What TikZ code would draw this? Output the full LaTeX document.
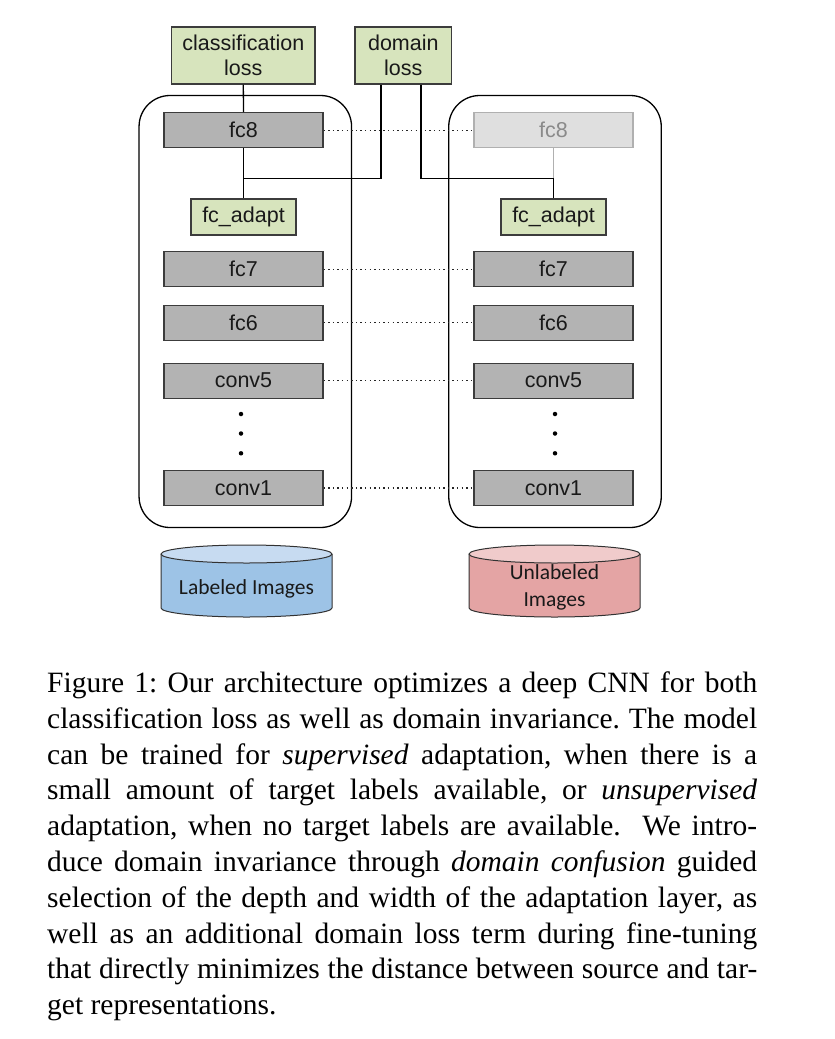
\documentclass[tikz,border=0pt]{standalone}
\usepackage{fontspec}
\setmainfont{Liberation Serif}
\newfontfamily\arialf{Liberation Sans}
\newfontfamily\calibrif{Carlito}
\definecolor{layergray}{RGB}{179,179,179}
\definecolor{layerline}{RGB}{60,60,60}
\definecolor{greenfill}{RGB}{215,228,189}
\definecolor{fadefill}{RGB}{223,223,223}
\definecolor{fadeline}{RGB}{176,176,176}
\definecolor{fadetext}{RGB}{138,138,138}
\definecolor{bluebody}{RGB}{157,195,230}
\definecolor{bluetop}{RGB}{199,219,241}
\definecolor{redbody}{RGB}{228,164,164}
\definecolor{redtop}{RGB}{240,203,203}
\definecolor{cylline}{RGB}{50,50,50}
\begin{document}
\begin{tikzpicture}[x=1pt,y=-1pt,
  layer/.style={draw=layerline, fill=layergray, line width=1.1pt, minimum width=159pt, minimum height=35pt, inner sep=0pt, font=\arialf\fontsize{21.5}{25}\selectfont, text=black!90},
  fadelayer/.style={layer, draw=fadeline, fill=fadefill, text=fadetext},
  greenbox/.style={draw=layerline, fill=greenfill, line width=1.1pt, inner sep=0pt, font=\arialf\fontsize{21.5}{25.5}\selectfont, align=center, text=black!90},
  container/.style={draw=black, line width=1.3pt, rounded corners=31pt, minimum width=212.5pt, minimum height=432pt, inner sep=0pt},
  conn/.style={draw=black, line width=1.3pt},
  fadeconn/.style={draw=fadeline, line width=1.3pt},
  dotline/.style={draw=black!85, line width=1.4pt, dash pattern=on 1.4pt off 3.2pt},
  vdot/.style={circle, fill=black, inner sep=0pt, minimum size=4.5pt},
  cyltext/.style={font=\calibrif\fontsize{21.5}{27}\selectfont, align=center, text=black!90}
]
\fill[white] (0,0) rectangle (835,1039);
\useasboundingbox (0,0) rectangle (835,1039);

% containers
\node[container] (lcont) at (245.3,311.5) {};
\node[container] (rcont) at (555,311.5) {};

% loss boxes
\node[greenbox, minimum width=143.4pt, minimum height=57pt] (closs) at (243.3,55.5) {classification\\loss};
\node[greenbox, minimum width=96.6pt, minimum height=57pt] (dloss) at (403.3,55.5) {domain\\loss};

% left column
\node[layer] (lfc8) at (243.5,130.2) {fc8};
\node[greenbox, minimum width=105pt, minimum height=36pt] (lad) at (243.5,217) {fc\_adapt};
\node[layer] (lfc7) at (243.5,269.2) {fc7};
\node[layer] (lfc6) at (243.5,322.7) {fc6};
\node[layer] (lconv5) at (243.5,380.7) {conv5};
\node[layer] (lconv1) at (243.5,488) {conv1};
\node[vdot] (ld1) at (241,414) {};
\node[vdot] (ld2) at (241,433.5) {};
\node[vdot] (ld3) at (241,453.3) {};

% right column
\node[fadelayer] (rfc8) at (553.5,130.2) {fc8};
\node[greenbox, minimum width=105pt, minimum height=36pt] (rad) at (553.5,217) {fc\_adapt};
\node[layer] (rfc7) at (553.5,269.2) {fc7};
\node[layer] (rfc6) at (553.5,322.7) {fc6};
\node[layer] (rconv5) at (553.5,380.7) {conv5};
\node[layer] (rconv1) at (553.5,488) {conv1};
\node[vdot] (rd1) at (555,414) {};
\node[vdot] (rd2) at (555,433.5) {};
\node[vdot] (rd3) at (555,453.3) {};

% dotted links
\draw[dotline] (lfc8.east) -- (rfc8.west);
\draw[dotline] (lfc7.east) -- (rfc7.west);
\draw[dotline] (lfc6.east) -- (rfc6.west);
\draw[dotline] (lconv5.east) -- (rconv5.west);
\draw[dotline] (lconv1.east) -- (rconv1.west);

% connectors
\coordinate (lj) at (243.5,178.3);
\coordinate (rj) at (553.5,178.3);
\draw[conn] (closs.south) -- (lfc8.north);
\draw[conn] (lfc8.south) -- (lad.north);
\draw[conn] (lj) -| (dloss.south -| 381,0);
\draw[fadeconn] (rfc8.south) -- (rj);
\draw[conn] (dloss.south -| 421,0) |- (rj) -- (rad.north);

% cylinders
\fill[bluebody] (161,554) -- (161,608) arc[start angle=180,end angle=360,x radius=85.5pt,y radius=9pt] -- (332,554) -- cycle;
\draw[cylline, line width=1pt] (161,554) -- (161,608) arc[start angle=180,end angle=360,x radius=85.5pt,y radius=9pt] -- (332,554);
\filldraw[fill=bluetop, draw=cylline, line width=1pt] (246.5,554) ellipse [x radius=85.5pt, y radius=9pt];
\node[cyltext] (limg) at (246.5,589) {Labeled Images};

\fill[redbody] (469,554) -- (469,608) arc[start angle=180,end angle=360,x radius=85.5pt,y radius=9pt] -- (640,554) -- cycle;
\draw[cylline, line width=1pt] (469,554) -- (469,608) arc[start angle=180,end angle=360,x radius=85.5pt,y radius=9pt] -- (640,554);
\filldraw[fill=redtop, draw=cylline, line width=1pt] (554.5,554) ellipse [x radius=85.5pt, y radius=9pt];
\node[cyltext] (rimg) at (554.5,587) {Unlabeled\\Images};

% caption
\node[anchor=north west, inner sep=0pt, align=left, font=\fontsize{29.5}{35.8}\selectfont\frenchspacing] (cap) at (47,671.5) {%
\makebox[710pt][s]{Figure 1: Our architecture optimizes a deep CNN for both}\\
\makebox[710pt][s]{classification loss as well as domain invariance. The model}\\
\makebox[710pt][s]{can be trained for \textit{supervised} adaptation, when there is a}\\
\makebox[710pt][s]{small amount of target labels available, or \textit{unsupervised}}\\
\makebox[710pt][s]{adaptation, when no target labels are available.\ \ We intro-}\\
\makebox[710pt][s]{duce domain invariance through \textit{domain confusion} guided}\\
\makebox[710pt][s]{selection of the depth and width of the adaptation layer, as}\\
\makebox[710pt][s]{well as an additional domain loss term during fine-tuning}\\
\makebox[710pt][s]{that directly minimizes the distance between source and tar-}\\
get representations.};
\end{tikzpicture}
\end{document}
